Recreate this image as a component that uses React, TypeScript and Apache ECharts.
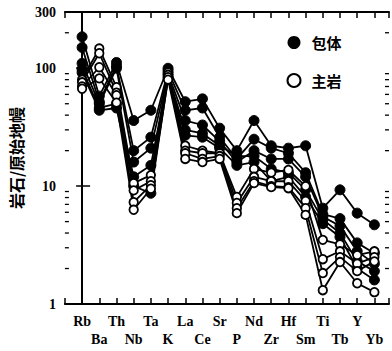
import React, { useEffect, useRef } from "react";
import * as echarts from "echarts";

const categories = ["Rb", "Ba", "Th", "Nb", "Ta", "K", "La", "Ce", "Sr", "P", "Nd", "Zr", "Hf", "Sm", "Ti", "Tb", "Y", "Yb"];

const enclave1 = [185, 58, 112, 36, 44, 100, 52, 55, 31, 20, 36, 22, 21, 22, 6.5, 9.3, 5.9, 4.7];
const enclave2 = [150, 52, 105, 20, 26, 95, 44, 46, 26, 17, 25, 21, 19, 13, 5.8, 5.3, 3.3, 2.7];
const enclave3 = [110, 50, 100, 16, 21, 90, 36, 33, 24, 16, 20, 17, 17, 12, 5.5, 4.6, 2.8, 2.2];
const enclave4 = [98, 46, 50, 12, 15, 86, 30, 28, 22, 18, 18, 14, 13, 9.3, 5.2, 4.0, 2.3, 1.9];
const enclave5 = [92, 44, 46, 10, 8.7, 82, 27, 26, 21, 15, 16, 11, 12, 8.1, 4.8, 3.7, 2.0, 1.6];

const host1 = [80, 147, 69, 10.6, 12.4, 92, 22, 20, 19, 8.1, 14, 13, 13.7, 10, 3.5, 3.2, 2.6, 2.8];
const host2 = [76, 134, 62, 9.2, 11, 88, 20, 19, 19, 7.2, 12, 11, 11, 7.5, 2.4, 2.8, 2.2, 2.5];
const host3 = [70, 102, 59, 7.3, 10.2, 84, 19, 17, 18, 6.5, 11, 10, 9.8, 6.5, 1.83, 2.5, 1.9, 2.3];
const host4 = [67, 82, 51, 6.3, 9.5, 80, 17, 16, 17, 5.9, 10.6, 9.8, 9.6, 5.7, 1.31, 2.27, 1.5, 1.26];

const enclaves = [enclave1, enclave2, enclave3, enclave4, enclave5];
const hosts = [host1, host2, host3, host4];

const minorTicks = [2, 3, 4, 5, 6, 7, 8, 9, 20, 30, 40, 50, 60, 70, 80, 90, 200];

const X_MIN = -1;
const X_MAX = 17.85;

const serif = "'Liberation Serif', 'DejaVu Serif', serif";
const cjk = "'Noto Sans CJK SC', sans-serif";

export default function App() {
  const ref = useRef<HTMLDivElement>(null);
  useEffect(() => {
    if (!ref.current) return;
    const chart = echarts.init(ref.current, undefined, { renderer: "svg" });

    const toPairs = (arr: number[]) => arr.map((v, i) => [i, v]);

    const lineSeries: any[] = [];
    enclaves.forEach((arr) => {
      lineSeries.push({
        name: "包体",
        type: "line",
        data: toPairs(arr),
        symbol: "circle",
        symbolSize: 10,
        lineStyle: { color: "#000", width: 1.8 },
        itemStyle: { color: "#000", borderColor: "#000", borderWidth: 1 },
        z: 3,
      });
    });
    hosts.forEach((arr) => {
      lineSeries.push({
        name: "主岩",
        type: "line",
        data: toPairs(arr),
        symbol: "circle",
        symbolSize: 8.5,
        lineStyle: { color: "#000", width: 1.8 },
        itemStyle: { color: "#fff", borderColor: "#000", borderWidth: 1.8 },
        z: 4,
      });
    });

    const tickSeries = {
      type: "custom",
      silent: true,
      clip: false,
      xAxisIndex: 0,
      yAxisIndex: 0,
      data: minorTicks.map((v) => [X_MIN, v]),
      encode: { x: 0, y: 1 },
      renderItem: (params: any, api: any) => {
        const v = api.value(1);
        const pL = api.coord([X_MIN, v]);
        const pR = api.coord([X_MAX, v]);
        return {
          type: "group",
          children: [
            { type: "line", shape: { x1: pL[0], y1: pL[1], x2: pL[0] + 4, y2: pL[1] }, style: { stroke: "#000", lineWidth: 1.3 } },
            { type: "line", shape: { x1: pR[0] - 4, y1: pR[1], x2: pR[0], y2: pR[1] }, style: { stroke: "#000", lineWidth: 1.3 } },
          ],
        };
      },
    };

    const xLabel = (v: number) => {
      const idx = Math.round(v);
      if (Math.abs(v - idx) > 0.01 || idx < 0 || idx >= categories.length) return "";
      return idx % 2 === 0 ? categories[idx] + "\n " : " \n" + categories[idx];
    };

    chart.setOption({
      animation: false,
      backgroundColor: "#fff",
      grid: { left: 59.4, right: 0, top: 12, bottom: 47, containLabel: false },
      legend: {
        orient: "vertical",
        left: 286.5,
        top: 35,
        itemWidth: 25,
        itemHeight: 13,
        itemGap: 23,
        padding: 0,
        icon: "circle",
        textStyle: { fontFamily: cjk, fontWeight: "bold", fontSize: 15, color: "#000" },
        data: [
          { name: "包体", itemStyle: { color: "#000", borderColor: "#000", borderWidth: 0 } },
          { name: "主岩", itemStyle: { color: "#fff", borderColor: "#000", borderWidth: 2 } },
        ],
      },
      xAxis: [
        {
          type: "value",
          position: "bottom",
          min: X_MIN,
          max: X_MAX,
          interval: 1,
          axisLine: { show: true, lineStyle: { color: "#000", width: 2 } },
          axisTick: { show: true, inside: true, length: 6, lineStyle: { color: "#000", width: 1.5 } },
          splitLine: { show: false },
          axisLabel: {
            formatter: xLabel,
            fontFamily: serif,
            fontWeight: "bold",
            fontSize: 14,
            color: "#000",
            lineHeight: 18,
            margin: 8,
            showMinLabel: true,
            showMaxLabel: true,
            hideOverlap: false,
          },
        },
        {
          type: "value",
          position: "top",
          min: X_MIN,
          max: X_MAX,
          interval: 1,
          axisLine: { show: true, lineStyle: { color: "#000", width: 2 } },
          axisTick: { show: true, inside: true, length: 6, lineStyle: { color: "#000", width: 1.5 } },
          splitLine: { show: false },
          axisLabel: { show: false },
        },
      ],
      yAxis: [
        {
          type: "log",
          logBase: 10,
          min: 1,
          max: 300,
          position: "left",
          name: "岩石/原始地幔",
          nameLocation: "middle",
          nameGap: 33,
          nameTextStyle: { fontFamily: cjk, fontWeight: "bold", fontSize: 16, color: "#000" },
          axisLine: { show: true, lineStyle: { color: "#000", width: 2 } },
          axisTick: { show: true, inside: true, length: 8, lineStyle: { color: "#000", width: 1.5 } },
          splitLine: { show: false },
          axisLabel: {
            formatter: (v: number) => String(Math.round(v)),
            fontFamily: serif,
            fontWeight: "bold",
            fontSize: 14,
            color: "#000",
            margin: 9,
            showMaxLabel: true,
          },
        },
        {
          type: "log",
          logBase: 10,
          min: 1,
          max: 300,
          position: "right",
          axisLine: { show: false },
          axisTick: { show: true, inside: true, length: 6, lineStyle: { color: "#000", width: 1.5 } },
          splitLine: { show: false },
          axisLabel: { show: false },
        },
      ],
      series: [...lineSeries, tickSeries],
    });

    return () => chart.dispose();
  }, []);

  return (
    <div
      ref={ref}
      style={{ position: "fixed", left: 0, top: 0, width: 392, height: 351, background: "#fff" }}
    />
  );
}
